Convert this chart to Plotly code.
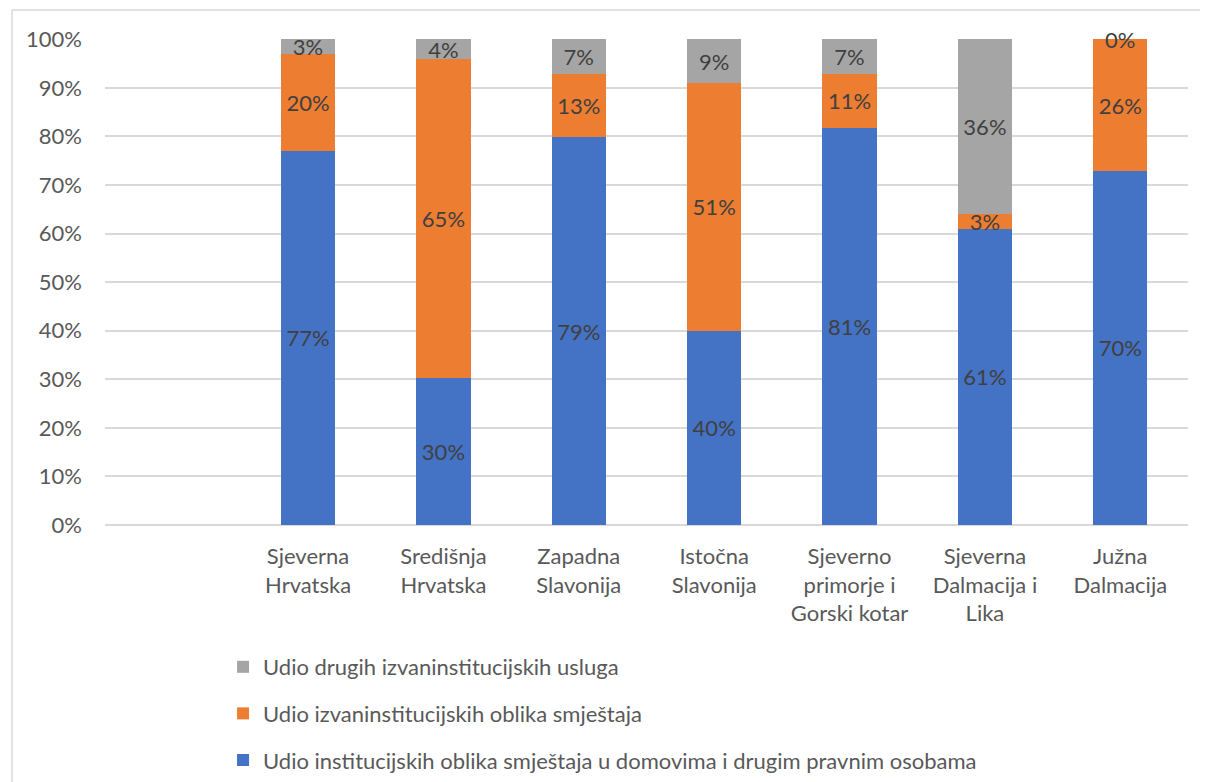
import plotly.graph_objects as go

categories = ["", "Sjeverna<br>Hrvatska", "Središnja<br>Hrvatska", "Zapadna<br>Slavonija",
              "Istočna<br>Slavonija", "Sjeverno<br>primorje i<br>Gorski kotar",
              "Sjeverna<br>Dalmacija i<br>Lika", "Južna<br>Dalmacija"]
regions = categories[1:]

series_names = [
    "Udio institucijskih oblika smještaja u domovima i drugim pravnim osobama",
    "Udio izvaninstitucijskih oblika smještaja",
    "Udio drugih izvaninstitucijskih usluga",
]
institucijski = [77, 30, 79, 40, 81, 61, 70]
izvaninstitucijski = [20, 65, 13, 51, 11, 3, 26]
drugi = [3, 4, 7, 9, 7, 36, 0]
colors = ["#4472C4", "#ED7D31", "#A5A5A5"]
y_ticks = list(range(0, 101, 10))

FONT = "Lato"
FS = 22
all_series = [institucijski, izvaninstitucijski, drugi]
fig = go.Figure()
for i, (name, vals, col) in enumerate(zip(series_names, all_series, colors)):
    fig.add_trace(go.Bar(
        x=regions, y=vals, name=name, marker=dict(color=col, line=dict(width=0)),
        text=[f"{v}%" for v in vals], texttemplate="%{text}",
        textposition="inside", insidetextanchor="middle", textangle=0,
        textfont=dict(color="#404040", size=FS, family=FONT),
        legendgroup=f"g{i}", legendrank=3 - i, cliponaxis=False,
    ))

# labels for zero-height segments (plotly does not draw text on empty bars)
annotations = []
for j, r in enumerate(regions):
    total = sum(s[j] for s in all_series)
    cum = 0
    for s in all_series:
        cum += s[j]
        if s[j] == 0:
            annotations.append(dict(x=r, y=cum / total * 100, xref="x", yref="y",
                                    text=f"{s[j]}%", showarrow=False, yanchor="middle",
                                    font=dict(color="#404040", size=FS, family=FONT)))

fig.update_layout(
    barmode="stack", barnorm="percent", bargap=0.6,
    width=1208, height=782,
    margin=dict(l=97, r=28, t=31, b=265),
    paper_bgcolor="white", plot_bgcolor="white",
    font=dict(family=FONT, color="#595959", size=FS),
    uniformtext=dict(mode="show", minsize=FS),
    xaxis=dict(categoryorder="array", categoryarray=categories, range=[-0.5, 7.5],
               showgrid=False, showline=False, zeroline=False,
               tickfont=dict(size=FS, color="#595959"), ticklabelstandoff=16),
    yaxis=dict(range=[0, 100.05], tickvals=y_ticks, ticktext=[f"{v}%" for v in y_ticks],
               showgrid=True, gridcolor="#D9D9D9", gridwidth=1.5, zeroline=True,
               zerolinecolor="#D9D9D9", zerolinewidth=1.5, showline=False,
               tickfont=dict(size=FS, color="#595959"), ticklabelstandoff=22),
    legend=dict(orientation="v", traceorder="grouped", x=0.109, xanchor="left",
                yref="container", y=1 - 638 / 782, yanchor="top", tracegroupgap=15,
                font=dict(size=FS, color="#595959")),
    showlegend=True,
    annotations=annotations,
    shapes=[dict(type="rect", xref="paper", yref="paper", x0=-(97 - 4) / 1083, x1=1.2,
                 y0=-1, y1=1 + 29 / 486, line=dict(color="#D9D9D9", width=1.5),
                 fillcolor="rgba(0,0,0,0)", layer="below")],
)
fig.write_html("out.html")
